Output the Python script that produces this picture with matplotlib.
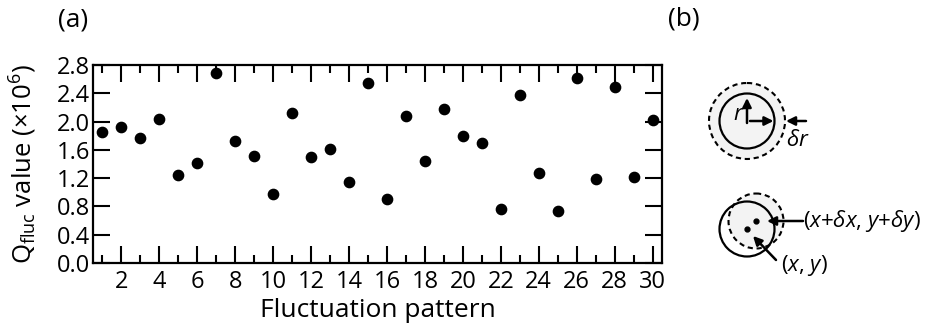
import matplotlib
matplotlib.use("Agg")
import matplotlib.pyplot as plt
from matplotlib.patches import Circle, FancyArrowPatch
from matplotlib.ticker import MultipleLocator

plt.rcParams['font.family'] = ['Open Sans', 'DejaVu Sans']
plt.rcParams['mathtext.fontset'] = 'custom'
plt.rcParams['mathtext.rm'] = 'Open Sans'
plt.rcParams['mathtext.it'] = 'Open Sans:italic'

# data: Q_fluc value (x10^6) for each fluctuation pattern
patterns = list(range(1, 31))
q_fluc = [1.85, 1.92, 1.77, 2.03, 1.25, 1.41, 2.69, 1.72, 1.51, 0.98,
          2.12, 1.50, 1.61, 1.15, 2.55, 0.91, 2.08, 1.44, 2.18, 1.80,
          1.69, 0.76, 2.37, 1.27, 0.73, 2.62, 1.19, 2.49, 1.22, 2.02]
y_ticks = [0.0, 0.4, 0.8, 1.2, 1.6, 2.0, 2.4, 2.8]
x_ticks = list(range(2, 31, 2))

fig = plt.figure(figsize=(9.34, 3.30), dpi=100)
ax = fig.add_axes([93/934, 67/330, (662-93)/934, 198/330])

ax.plot(patterns, q_fluc, 'o', color='black', markersize=7.4)
ax.set_xlim(0.5, 30.5)
ax.set_ylim(0, 2.8)
ax.set_xticks(x_ticks)
ax.xaxis.set_minor_locator(MultipleLocator(1))
ax.set_yticks(y_ticks)
ax.set_yticklabels(['%.1f' % v for v in y_ticks])
ax.tick_params(which='both', direction='in', top=True, right=True,
               labelsize=17, width=1.5)
ax.tick_params(which='major', length=12)
ax.tick_params(which='minor', length=6)
ax.tick_params(axis='x', pad=5)
ax.tick_params(axis='y', pad=2)
for s in ax.spines.values():
    s.set_linewidth(1.6)
ax.set_xlabel('Fluctuation pattern', fontsize=19, labelpad=3)
ax.set_ylabel(r'Q$_{\rm fluc}$ value (×10$^{6}$)', fontsize=18.5, labelpad=13)

fig.text(58/934, 1 - 20/330, '(a)', fontsize=19, va='center')
fig.text(668/934, 1 - 19/330, '(b)', fontsize=19, va='center')

# panel (b): schematic drawn in pixel coordinates
bx = fig.add_axes([0, 0, 1, 1])
bx.set_xlim(0, 934)
bx.set_ylim(330, 0)
bx.axis('off')

R = 27.5
# top: radius fluctuation
cx, cy = 747, 121
bx.add_patch(Circle((cx, cy), 38, facecolor='#f3f3f3', edgecolor='black',
                    linestyle=(0, (2.5, 1.8)), lw=1.5))
bx.add_patch(Circle((cx, cy), R, facecolor='none', edgecolor='black', lw=1.6))

def arrow(x0, y0, x1, y1):
    bx.add_patch(FancyArrowPatch((x0, y0), (x1, y1), arrowstyle='-|>',
                                 mutation_scale=13, lw=1.8, color='black',
                                 shrinkA=0, shrinkB=0))

arrow(cx, cy + 2, cx, cy - 23)
arrow(cx + 3, cy, cx + R - 1, cy)
arrow(806, cy, 786, cy)
bx.text(cx - 3, cy - 7, '$\\mathit{r}$', fontsize=16, ha='right', va='center')
bx.text(786, 141, r'$\mathit{\delta r}$', fontsize=16, ha='left', va='center')

# bottom: position fluctuation
cx2, cy2 = 747, 229
dx2, dy2 = 756, 221
bx.add_patch(Circle((dx2, dy2), R, facecolor='#f3f3f3', edgecolor='black',
                    linestyle=(0, (2.5, 1.8)), lw=1.5))
bx.add_patch(Circle((cx2, cy2), R, facecolor='none', edgecolor='black', lw=1.6))
bx.plot([cx2, dx2], [cy2, dy2], 'o', color='black', markersize=3.5)
arrow(803, dy2, 767, dy2)
arrow(776, 260, 753, 236)
bx.text(803, dy2, r'($\mathit{x}$+$\mathit{\delta x}$, $\mathit{y}$+$\mathit{\delta y}$)',
        fontsize=16, ha='left', va='center')
bx.text(781, 266, r'($\mathit{x}$, $\mathit{y}$)', fontsize=16, ha='left', va='center')

fig.savefig('out.png', dpi=100)
